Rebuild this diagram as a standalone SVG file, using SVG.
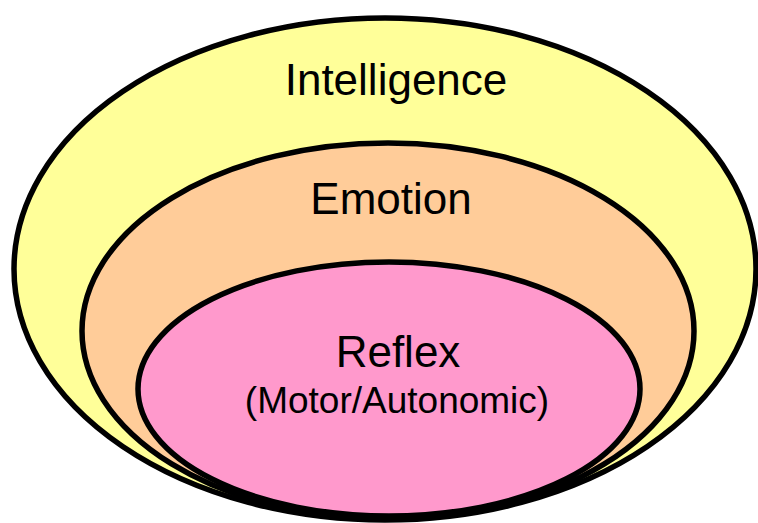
<svg xmlns="http://www.w3.org/2000/svg" width="758" height="523" viewBox="0 0 758 523">
  <style>
    .ring { stroke: #000; stroke-width: 5.5; }
    .label { font-family: "Liberation Sans", Arial, sans-serif; fill: #000; text-anchor: middle; }
    .big { font-size: 44px; }
    .small { font-size: 37px; }
  </style>
  <rect width="758" height="523" fill="#fff"/>
  <g id="intelligence">
    <ellipse class="ring" cx="385" cy="269" rx="371" ry="251" fill="#ffff99"/>
    <text class="label big" x="396" y="95">Intelligence</text>
  </g>
  <g id="emotion">
    <ellipse class="ring" cx="388" cy="331" rx="306" ry="188" fill="#ffcc99"/>
    <text class="label big" x="391" y="214">Emotion</text>
  </g>
  <g id="reflex">
    <ellipse class="ring" cx="389" cy="389" rx="251" ry="127" fill="#ff99cc"/>
    <text class="label big" x="398" y="367">Reflex</text>
    <text class="label small" x="397" y="413">(Motor/Autonomic)</text>
  </g>
  <g id="connectors"/>
</svg>
